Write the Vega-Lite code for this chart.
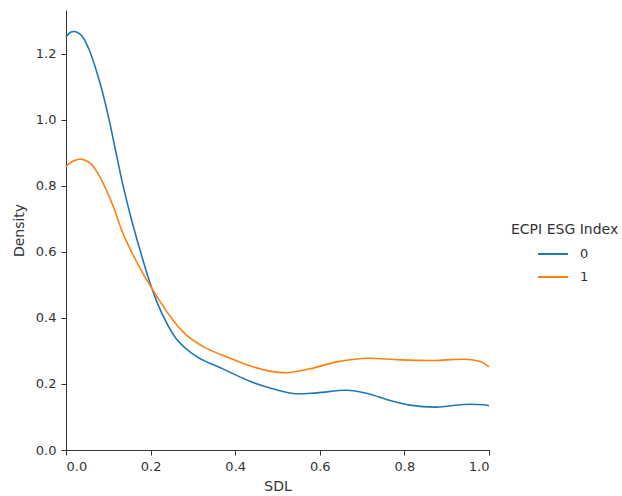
{
  "$schema": "https://vega.github.io/schema/vega-lite/v6.json",
  "autosize": {"type": "none"},
  "width": 423,
  "height": 440,
  "padding": {"left": 66, "top": 10, "right": 133, "bottom": 46},
  "background": "white",
  "config": {
    "view": {"stroke": null},
    "font": "DejaVu Sans"
  },
  "data": {
    "values": [
      {"SDL": 0.0, "Density": 1.252, "ECPI ESG Index": "0"},
      {"SDL": 0.01, "Density": 1.265, "ECPI ESG Index": "0"},
      {"SDL": 0.02, "Density": 1.268, "ECPI ESG Index": "0"},
      {"SDL": 0.03, "Density": 1.263, "ECPI ESG Index": "0"},
      {"SDL": 0.039, "Density": 1.252, "ECPI ESG Index": "0"},
      {"SDL": 0.055, "Density": 1.212, "ECPI ESG Index": "0"},
      {"SDL": 0.071, "Density": 1.152, "ECPI ESG Index": "0"},
      {"SDL": 0.087, "Density": 1.081, "ECPI ESG Index": "0"},
      {"SDL": 0.102, "Density": 1.0, "ECPI ESG Index": "0"},
      {"SDL": 0.116, "Density": 0.915, "ECPI ESG Index": "0"},
      {"SDL": 0.135, "Density": 0.8, "ECPI ESG Index": "0"},
      {"SDL": 0.155, "Density": 0.697, "ECPI ESG Index": "0"},
      {"SDL": 0.175, "Density": 0.606, "ECPI ESG Index": "0"},
      {"SDL": 0.195, "Density": 0.52, "ECPI ESG Index": "0"},
      {"SDL": 0.21, "Density": 0.465, "ECPI ESG Index": "0"},
      {"SDL": 0.23, "Density": 0.405, "ECPI ESG Index": "0"},
      {"SDL": 0.262, "Density": 0.335, "ECPI ESG Index": "0"},
      {"SDL": 0.309, "Density": 0.283, "ECPI ESG Index": "0"},
      {"SDL": 0.372, "Density": 0.245, "ECPI ESG Index": "0"},
      {"SDL": 0.435, "Density": 0.208, "ECPI ESG Index": "0"},
      {"SDL": 0.482, "Density": 0.188, "ECPI ESG Index": "0"},
      {"SDL": 0.537, "Density": 0.171, "ECPI ESG Index": "0"},
      {"SDL": 0.593, "Density": 0.173, "ECPI ESG Index": "0"},
      {"SDL": 0.663, "Density": 0.181, "ECPI ESG Index": "0"},
      {"SDL": 0.71, "Density": 0.172, "ECPI ESG Index": "0"},
      {"SDL": 0.766, "Density": 0.15, "ECPI ESG Index": "0"},
      {"SDL": 0.813, "Density": 0.136, "ECPI ESG Index": "0"},
      {"SDL": 0.876, "Density": 0.13, "ECPI ESG Index": "0"},
      {"SDL": 0.939, "Density": 0.138, "ECPI ESG Index": "0"},
      {"SDL": 0.986, "Density": 0.137, "ECPI ESG Index": "0"},
      {"SDL": 1.0, "Density": 0.134, "ECPI ESG Index": "0"},
      {"SDL": 0.0, "Density": 0.859, "ECPI ESG Index": "1"},
      {"SDL": 0.015, "Density": 0.874, "ECPI ESG Index": "1"},
      {"SDL": 0.0315, "Density": 0.881, "ECPI ESG Index": "1"},
      {"SDL": 0.045, "Density": 0.878, "ECPI ESG Index": "1"},
      {"SDL": 0.057, "Density": 0.869, "ECPI ESG Index": "1"},
      {"SDL": 0.072, "Density": 0.845, "ECPI ESG Index": "1"},
      {"SDL": 0.088, "Density": 0.808, "ECPI ESG Index": "1"},
      {"SDL": 0.112, "Density": 0.737, "ECPI ESG Index": "1"},
      {"SDL": 0.135, "Density": 0.655, "ECPI ESG Index": "1"},
      {"SDL": 0.159, "Density": 0.59, "ECPI ESG Index": "1"},
      {"SDL": 0.183, "Density": 0.532, "ECPI ESG Index": "1"},
      {"SDL": 0.203, "Density": 0.49, "ECPI ESG Index": "1"},
      {"SDL": 0.23, "Density": 0.435, "ECPI ESG Index": "1"},
      {"SDL": 0.246, "Density": 0.405, "ECPI ESG Index": "1"},
      {"SDL": 0.285, "Density": 0.348, "ECPI ESG Index": "1"},
      {"SDL": 0.332, "Density": 0.308, "ECPI ESG Index": "1"},
      {"SDL": 0.388, "Density": 0.278, "ECPI ESG Index": "1"},
      {"SDL": 0.435, "Density": 0.255, "ECPI ESG Index": "1"},
      {"SDL": 0.482, "Density": 0.239, "ECPI ESG Index": "1"},
      {"SDL": 0.522, "Density": 0.234, "ECPI ESG Index": "1"},
      {"SDL": 0.577, "Density": 0.246, "ECPI ESG Index": "1"},
      {"SDL": 0.64, "Density": 0.267, "ECPI ESG Index": "1"},
      {"SDL": 0.71, "Density": 0.278, "ECPI ESG Index": "1"},
      {"SDL": 0.789, "Density": 0.273, "ECPI ESG Index": "1"},
      {"SDL": 0.868, "Density": 0.271, "ECPI ESG Index": "1"},
      {"SDL": 0.939, "Density": 0.275, "ECPI ESG Index": "1"},
      {"SDL": 0.979, "Density": 0.268, "ECPI ESG Index": "1"},
      {"SDL": 1.0, "Density": 0.252, "ECPI ESG Index": "1"}
    ]
  },
  "mark": {"type": "line", "interpolate": "catmull-rom", "strokeWidth": 1.6},
  "encoding": {
    "x": {
      "field": "SDL",
      "type": "quantitative",
      "scale": {"domain": [0, 1], "nice": false, "zero": false},
      "axis": {
        "values": [0, 0.2, 0.4, 0.6, 0.8, 1.0],
        "format": ".1f",
        "grid": false,
        "domainColor": "#333",
        "tickColor": "#333",
        "tickSize": 5,
        "labelPadding": 5,
        "labelFontSize": 13,
        "labelColor": "#333",
        "labelFont": "DejaVu Sans",
        "title": "SDL",
        "titleFontSize": 14,
        "titleFontWeight": "normal",
        "titleColor": "#333",
        "titleFont": "DejaVu Sans",
        "titlePadding": 6
      }
    },
    "y": {
      "field": "Density",
      "type": "quantitative",
      "scale": {"domain": [0, 1.333], "nice": false},
      "axis": {
        "values": [0, 0.2, 0.4, 0.6, 0.8, 1.0, 1.2],
        "format": ".1f",
        "grid": false,
        "domainColor": "#333",
        "tickColor": "#333",
        "tickSize": 5,
        "labelPadding": 5,
        "labelFontSize": 13,
        "labelColor": "#333",
        "labelFont": "DejaVu Sans",
        "title": "Density",
        "titleFontSize": 14,
        "titleFontWeight": "normal",
        "titleColor": "#333",
        "titleFont": "DejaVu Sans",
        "titlePadding": 9
      }
    },
    "color": {
      "field": "ECPI ESG Index",
      "type": "nominal",
      "scale": {"domain": ["0", "1"], "range": ["#1f77b4", "#ff7f0e"]},
      "legend": {
        "orient": "none",
        "legendX": 445,
        "legendY": 213,
        "title": "ECPI ESG Index",
        "titleFontSize": 14,
        "titleFontWeight": "normal",
        "titleColor": "#333",
        "titleFont": "DejaVu Sans",
        "labelFontSize": 13,
        "labelColor": "#333",
        "labelFont": "DejaVu Sans",
        "symbolType": "stroke",
        "symbolSize": 900,
        "symbolStrokeWidth": 2,
        "symbolOffset": 26,
        "labelOffset": 11,
        "rowPadding": -5,
        "titlePadding": 1,
        "offset": 0
      }
    }
  }
}
